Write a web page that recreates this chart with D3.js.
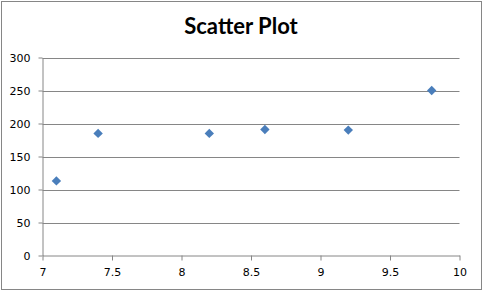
<!DOCTYPE html>
<html>
<head>
<meta charset="utf-8">
<script src="https://cdn.jsdelivr.net/npm/d3@7"></script>
<style>
  body { margin: 0; background: #fff; }
  svg { display: block; }
</style>
</head>
<body>
<script>
const xValues = [7.1, 7.4, 8.2, 8.6, 9.2, 9.8]
const yValues = [113, 185, 185, 191, 190, 250]
const xTicks = [7, 7.5, 8, 8.5, 9, 9.5, 10]
const yTicks = [0, 50, 100, 150, 200, 250, 300]
const title = 'Scatter Plot'

const width = 483
const height = 291
const plotLeft = 42.5
const plotRight = 459.5
const plotTop = 57.5
const plotBottom = 255.5
const gridColor = '#868686'
const markerColor = '#4a7ebb'
const labelFont = '"DejaVu Sans", Verdana, sans-serif'

const svg = d3.select('body').append('svg')
  .attr('width', width).attr('height', height)

svg.append('rect')
  .attr('x', 1.5).attr('y', 1.5)
  .attr('width', width - 3).attr('height', height - 3)
  .attr('fill', '#fff').attr('stroke', gridColor)

const x = d3.scaleLinear().domain([7, 10]).range([plotLeft, plotRight])
const y = d3.scaleLinear().domain([0, 300]).range([plotBottom, plotTop])

// horizontal gridlines
svg.append('g').selectAll('line')
  .data(yTicks.filter(d => d > 0))
  .join('line')
  .attr('x1', plotLeft).attr('x2', plotRight)
  .attr('y1', d => Math.round(y(d)) + 0.5).attr('y2', d => Math.round(y(d)) + 0.5)
  .attr('stroke', gridColor)

const yAxis = svg.append('g')
  .attr('transform', `translate(${plotLeft},0)`)
  .call(d3.axisLeft(y).tickValues(yTicks).tickSize(4).tickPadding(8).tickSizeOuter(0))
yAxis.select('.domain').attr('stroke', gridColor)
yAxis.selectAll('.tick line').attr('stroke', gridColor)
yAxis.selectAll('text').attr('font-family', labelFont).attr('font-size', 11).attr('fill', '#000')

const xAxis = svg.append('g')
  .attr('transform', `translate(0,${plotBottom})`)
  .call(d3.axisBottom(x).tickValues(xTicks).tickFormat(d3.format('')).tickSize(5).tickPadding(8).tickSizeOuter(0))
xAxis.select('.domain').attr('stroke', gridColor)
xAxis.selectAll('.tick line').attr('stroke', gridColor)
xAxis.selectAll('text').attr('font-family', labelFont).attr('font-size', 11).attr('fill', '#000')

// markers
svg.append('g').selectAll('path')
  .data(xValues.map((v, i) => [v, yValues[i]]))
  .join('path')
  .attr('transform', d => `translate(${x(d[0])},${y(d[1])}) rotate(45)`)
  .attr('d', d3.symbol(d3.symbolSquare, 44))
  .attr('fill', markerColor)

svg.append('text')
  .attr('x', 241).attr('y', 34)
  .attr('text-anchor', 'middle')
  .attr('font-family', 'Lato, "Open Sans", sans-serif')
  .attr('font-weight', 'bold')
  .attr('font-size', 22)
  .text(title)
</script>
</body>
</html>
